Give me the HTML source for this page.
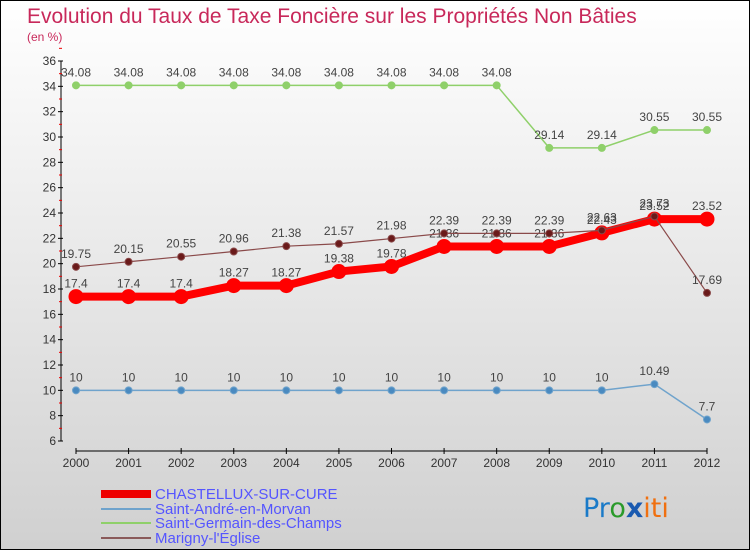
<!DOCTYPE html>
<html><head><meta charset="utf-8"><style>
body{margin:0}
#c{position:relative;width:748px;height:548px;border:1px solid #000;background:linear-gradient(#fff,#d0d0d0);font-family:"Liberation Sans Narrow","Liberation Sans",sans-serif;overflow:hidden}
</style></head><body>
<div id="c">
<svg id="s" width="748" height="548" style="position:absolute;left:0;top:0">
<text x="26" y="22" font-size="21" fill="#c8285a" font-family="Liberation Sans Narrow, Liberation Sans, sans-serif">Evolution du Taux de Taxe Foncière sur les Propriétés Non Bâties</text>
<text x="26" y="40" font-size="12" fill="#c8285a">(en %)</text>
<g id="g"></g>
<g font-size="15" fill="#5555ff">
<rect x="100" y="489" width="50" height="8" fill="#e00"/>
<text x="154" y="498">CHASTELLUX-SUR-CURE</text>
<rect x="100" y="507" width="50" height="2" fill="#6fa3cc"/>
<text x="154" y="513">Saint-André-en-Morvan</text>
<rect x="100" y="521" width="50" height="2" fill="#8fd06a"/>
<text x="154" y="527">Saint-Germain-des-Champs</text>
<rect x="100" y="536" width="50" height="2" fill="#8a5a5a"/>
<text x="154" y="542">Marigny-l'Église</text>
</g>
<text x="582" y="516" font-size="27" font-family="DejaVu Sans, sans-serif"><tspan fill="#1a7ac8">Pr</tspan><tspan fill="#2a9a2a">o</tspan><tspan fill="#1a5ab0" font-weight="bold">x</tspan><tspan fill="#f07010">iti</tspan></text>
</svg>
</div>
<script>
const years=[2000,2001,2002,2003,2004,2005,2006,2007,2008,2009,2010,2011,2012];
const yTicks=[6,8,10,12,14,16,18,20,22,24,26,28,30,32,34,36];
const chastellux=[17.4,17.4,17.4,18.27,18.27,19.38,19.78,21.36,21.36,21.36,22.43,23.52,23.52];
const saintAndre=[10,10,10,10,10,10,10,10,10,10,10,10.49,7.7];
const saintGermain=[34.08,34.08,34.08,34.08,34.08,34.08,34.08,34.08,34.08,29.14,29.14,30.55,30.55];
const marigny=[19.75,20.15,20.55,20.96,21.38,21.57,21.98,22.39,22.39,22.39,22.63,23.73,17.69];
const NS="http://www.w3.org/2000/svg",g=document.getElementById('g');
const X=i=>75+i*(706-75)/(years.length-1);
const Y=v=>440-(v-6)*(380/30);
function el(t,a,p){const e=document.createElementNS(NS,t);for(const k in a)e.setAttribute(k,a[k]);(p||g).appendChild(e);return e;}
let e=el('line',{x1:60,y1:60,x2:60,y2:440,stroke:'#000'});


e=el('line',{x1:75,y1:450,x2:706,y2:450,stroke:'#000'});


yTicks.forEach(v=>{
 el('line',{x1:57,x2:62,y1:Y(v),y2:Y(v),stroke:'#000'});
 el('line',{x1:58,x2:61,y1:Y(v+1),y2:Y(v+1),stroke:'#e00'});
 const t=el('text',{x:55,y:Y(v)+4,'font-size':12,'text-anchor':'end',fill:'#333'});t.textContent=v;
 
 
});
years.forEach((y,i)=>{
 el('line',{x1:X(i),x2:X(i),y1:447,y2:453,stroke:'#000'});
 const t=el('text',{x:X(i),y:466,'font-size':12,'text-anchor':'middle',fill:'#333'});t.textContent=y;
 
 
});
function series(d,name,col,w,r,dot){
 const p=el('polyline',{points:d.map((v,i)=>X(i)+','+Y(v)).join(' '),fill:'none',stroke:col,'stroke-width':w});
 
 
 d.forEach((v,i)=>{
  const c=el('circle',{cx:X(i),cy:Y(v),r:r,fill:dot,stroke:col,'stroke-width':1});
  
  
  const t=el('text',{x:X(i),y:Y(v)-9,'font-size':12,'text-anchor':'middle',fill:'#444'});t.textContent=v;
  
  
 });
}
series(saintGermain,'saint-germain','#8fd06a',1.5,3.5,'#8fd06a');
series(saintAndre,'saint-andre','#6fa3cc',1.5,3.5,'#4a8ac0');
series(chastellux,'chastellux','#f00',8,7,'#f00');
series(marigny,'marigny','#8a4a4a',1.2,3.5,'#6a1a1a');
</script>
</body></html>
